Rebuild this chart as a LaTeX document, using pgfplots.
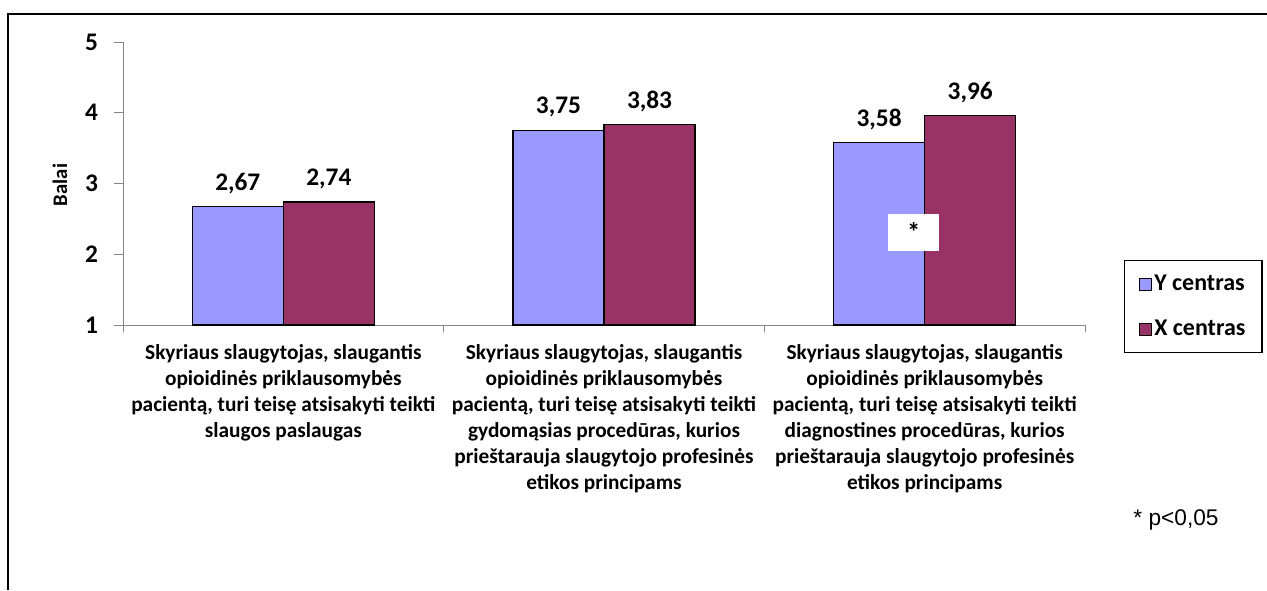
\documentclass[border=0pt]{standalone}
\usepackage{fontspec}
\setmainfont{Carlito}
\newfontfamily\arialfont{Liberation Sans}
\usepackage{pgfplots}
\pgfplotsset{compat=1.18}

\definecolor{ybar}{HTML}{9999FF}
\definecolor{xbar}{HTML}{993366}
\definecolor{axgray}{HTML}{868686}

\newcommand{\lgfont}{\fontsize{18}{21}\selectfont\bfseries}
\newcommand{\ytf}{\fontsize{19}{22}\selectfont\bfseries}

\begin{document}
\begin{tikzpicture}
% 1 px of the reference = 0.75pt
\useasboundingbox (0,0) rectangle (950.25pt,-442.5pt);
\draw[line width=1.5pt] (6pt,-442.5pt) -- (6pt,-10.5pt) -- (950.25pt,-10.5pt);

\begin{axis}[
    at={(92.25pt,-243.75pt)}, anchor=south west,
    scale only axis,
    width=721.5pt, height=212.25pt,
    ybar=0pt, bar width=0.284,
    xmin=-0.5, xmax=2.5,
    ymin=1, ymax=5,
    ytick={1,2,3,4,5},
    yticklabels={{\ytf 1},{\ytf 2},{\ytf 3},{\ytf 4},{\ytf 5}},
    xtick={0,1,2},
    minor xtick={-0.5,0.5,1.5,2.5},
    major x tick style={draw=none},
    minor x tick style={draw=axgray, line width=0.75pt},
    minor tick length=5pt,
    y tick style={draw=axgray, line width=0.75pt},
    major tick length=6.75pt,
    tick align=outside,
    axis x line*=bottom, axis y line*=left,
    axis line style={draw=axgray, line width=0.75pt, -},
    /pgf/number format/assume math mode=true,
    yticklabel style={font=\ytf, xshift=-8.5pt},
    xticklabel style={font=\fontsize{16}{19.5}\selectfont\bfseries, align=center, yshift=-4pt},
    xticklabels={
        {Skyriaus slaugytojas, slaugantis\\opioidinės priklausomybės\\pacientą, turi teisę atsisakyti teikti\\slaugos paslaugas},
        {Skyriaus slaugytojas, slaugantis\\opioidinės priklausomybės\\pacientą, turi teisę atsisakyti teikti\\gydomąsias procedūras, kurios\\prieštarauja slaugytojo profesinės\\etikos principams},
        {Skyriaus slaugytojas, slaugantis\\opioidinės priklausomybės\\pacientą, turi teisę atsisakyti teikti\\diagnostines procedūras, kurios\\prieštarauja slaugytojo profesinės\\etikos principams}
    },
    nodes near coords={\pgfmathprintnumber[fixed,fixed zerofill,precision=2,use comma,assume math mode=true]{\pgfplotspointmeta}},
    every node near coord/.append style={font=\fontsize{19}{22}\selectfont\bfseries, yshift=6pt},
    legend style={at={(axis description cs:1.0405,0.2297)}, anchor=north west,
        draw=black, line width=1pt, font=\lgfont,
        row sep=16.5pt, inner xsep=10.5pt, inner ysep=9pt},
    legend cell align={left},
    legend image code/.code={\draw[#1, line width=0.75pt] (0pt,-4.5pt) rectangle (9pt,4.5pt);},
    clip=false,
]
\addplot[fill=ybar, draw=black, line width=0.9pt] coordinates {(0,2.67) (1,3.75) (2,3.58)};
\addlegendentry{\lgfont Y centras}
\addplot[fill=xbar, draw=black, line width=0.9pt] coordinates {(0,2.74) (1,3.83) (2,3.96)};
\addlegendentry{\lgfont X centras}

\node[fill=white, minimum width=38pt, minimum height=28pt, inner sep=0pt,
      font=\fontsize{20}{22}\selectfont\bfseries] at (axis cs:1.966,2.31) {*};
\end{axis}

\node[rotate=90, font=\fontsize{15.5}{18}\selectfont\bfseries] at (45pt,-138.75pt) {Balai};
\node[font=\arialfont\fontsize{17}{20}\selectfont] at (882pt,-390pt) {* p<0,05};
\end{tikzpicture}
\end{document}
